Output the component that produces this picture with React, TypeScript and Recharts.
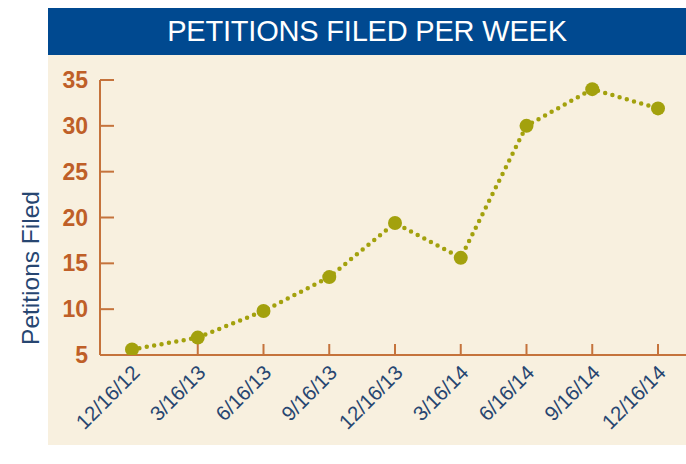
import { LineChart, Line, XAxis, YAxis } from 'recharts'

const dates = ['12/16/12', '3/16/13', '6/16/13', '9/16/13', '12/16/13', '3/16/14', '6/16/14', '9/16/14', '12/16/14']
const petitions = [5.6, 6.9, 9.8, 13.5, 19.4, 15.6, 30.0, 34.0, 31.9]
const yTicks = [5, 10, 15, 20, 25, 30, 35]

const data = dates.map((d, i) => ({ date: d, value: petitions[i] }))

const AXIS = '#c5733c'
const LABEL = '#bf5f28'
const NAVY = '#274671'
const OLIVE = '#a3a10d'
const FONT = 'Liberation Sans, Arial, sans-serif'

const XTick = (props: any) => {
  const { x, y, payload } = props
  const ax = x + 9
  const ay = y + 28
  return (
    <text
      x={ax}
      y={ay}
      transform={`rotate(-45 ${ax} ${ay})`}
      textAnchor="end"
      fill={NAVY}
      fontSize={20.5}
      fontFamily={FONT}
    >
      {payload.value}
    </text>
  )
}

export default function App() {
  return (
    <div style={{ position: 'fixed', left: 0, top: 0, width: 686, height: 464, background: '#fff', overflow: 'hidden' }}>
      {/* Title bar */}
      <div
        style={{
          position: 'absolute', left: 48, top: 8, width: 638, height: 47,
          background: '#004990', color: '#fff', display: 'flex',
          alignItems: 'center', justifyContent: 'center',
          fontFamily: FONT, fontSize: 29, letterSpacing: -0.2,
        }}
      >
        PETITIONS FILED PER WEEK
      </div>

      {/* Cream panel */}
      <div style={{ position: 'absolute', left: 48, top: 55, width: 638, height: 390, background: '#f8f0df' }} />

      {/* Y axis title */}
      <div
        style={{
          position: 'absolute', left: 31, top: 268, transform: 'translate(-50%, -50%) rotate(-90deg)',
          whiteSpace: 'nowrap', color: NAVY, fontSize: 24.5, fontFamily: FONT,
        }}
      >
        Petitions Filed
      </div>

      <div style={{ position: 'absolute', left: 0, top: 0 }}>
        <LineChart width={686} height={464} data={data} margin={{ top: 80, right: 0, bottom: 79, left: 40 }}>
          <XAxis
            dataKey="date"
            height={30}
            padding={{ left: 32, right: 28 }}
            axisLine={{ stroke: AXIS, strokeWidth: 2 }}
            tickLine={{ stroke: AXIS, strokeWidth: 2 }}
            tickSize={-11}
            tick={<XTick />}
            interval={0}
          />
          <YAxis
            width={60}
            domain={[5, 35]}
            ticks={yTicks}
            allowDataOverflow
            axisLine={{ stroke: AXIS, strokeWidth: 2 }}
            tickLine={{ stroke: AXIS, strokeWidth: 2 }}
            tickSize={-14}
            tick={{ fill: LABEL, fontSize: 23, fontWeight: 700, fontFamily: FONT, dx: -24 }}
          />
          <Line
            dataKey="value"
            stroke={OLIVE}
            strokeWidth={4.5}
            strokeDasharray="0 7.5"
            strokeLinecap="round"
            dot={{ r: 7, fill: OLIVE, stroke: 'none' }}
            isAnimationActive={false}
          />
        </LineChart>
      </div>
    </div>
  )
}
